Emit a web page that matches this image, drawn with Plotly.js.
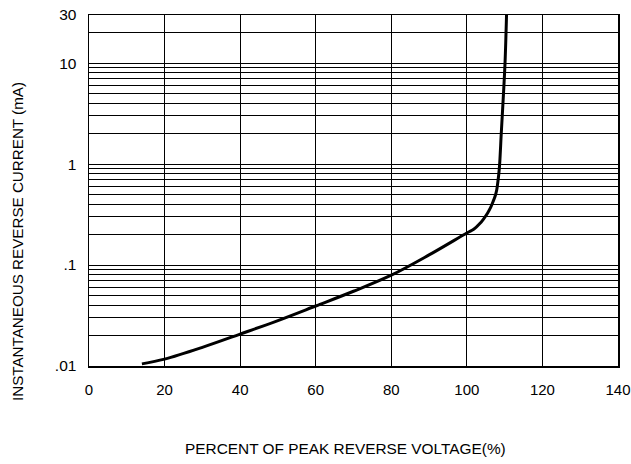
<!DOCTYPE html>
<html>
<head>
<meta charset="utf-8">
<script src="https://cdn.plot.ly/plotly-3.0.1.min.js"></script>
<style>html,body{margin:0;padding:0;background:#fff;}#chart{width:631px;height:464px;}</style>
</head>
<body>
<div id="chart"></div>
<script>
// Percent of peak reverse voltage (%)
const voltagePct = [14, 20, 30, 40, 50, 60, 70, 80, 90, 100.1, 101.9, 103.5, 104.5, 105.5, 106.3, 106.9, 107.45, 107.9, 108.2, 108.45, 108.7, 109.1, 109.6, 110.1, 110.5];
// Instantaneous reverse current (mA)
const currentMA = [0.0105, 0.0117, 0.0153, 0.0207, 0.0282, 0.0393, 0.055, 0.0794, 0.126, 0.209, 0.2275, 0.259, 0.289, 0.328, 0.372, 0.422, 0.478, 0.554, 0.665, 0.798, 1.03, 2.0, 4.3, 10, 30];

const xTicks = [0, 20, 40, 60, 80, 100, 120, 140];
const yGridVals = [0.01,0.02,0.03,0.04,0.05,0.06,0.07,0.08,0.09,0.1,0.2,0.3,0.4,0.5,0.6,0.7,0.8,0.9,1,2,3,4,5,6,7,8,9,10,20,30];
const yLabelMap = {"0.01": ".01", "0.1": ".1", "1": "1", "10": "10", "30": "30"};
const yTickText = yGridVals.map(v => yLabelMap[String(v)] || "");

const FONT = "'Liberation Sans', Arial, sans-serif";

const trace = {
  x: voltagePct, y: currentMA, type: 'scatter', mode: 'lines',
  line: {color: '#000', width: 3, shape: 'spline', smoothing: 1},
  hoverinfo: 'skip'
};

const layout = {
  width: 631, height: 464,
  margin: {l: 89, r: 13, t: 15, b: 98},
  paper_bgcolor: '#fff', plot_bgcolor: '#fff',
  showlegend: false,
  font: {family: FONT, size: 15, color: '#000'},
  xaxis: {
    range: [0, 140], tickvals: xTicks, ticktext: xTicks.map(String),
    showgrid: true, gridcolor: '#000', gridwidth: 1,
    showline: true, linecolor: '#000', linewidth: 1.5, mirror: true,
    ticks: 'outside', ticklen: 9, tickcolor: 'rgba(0,0,0,0)',
    zeroline: false, tickfont: {family: FONT, size: 15, color: '#000'}
  },
  yaxis: {
    type: 'log', range: [-2, Math.log10(30)],
    tickvals: yGridVals, ticktext: yTickText,
    showgrid: true, gridcolor: '#000', gridwidth: 1,
    showline: true, linecolor: '#000', linewidth: 1.5, mirror: true,
    ticks: 'outside', ticklen: 8, tickcolor: 'rgba(0,0,0,0)',
    zeroline: false, tickfont: {family: FONT, size: 15.5, color: '#000'}
  },
  annotations: [
    {text: 'PERCENT OF PEAK REVERSE VOLTAGE(%)', xref: 'paper', yref: 'paper',
     x: 0.484, y: -0.236, xanchor: 'center', yanchor: 'middle', showarrow: false,
     font: {family: FONT, size: 15.4, color: '#000'}},
    {text: 'INSTANTANEOUS REVERSE CURRENT (mA)', xref: 'paper', yref: 'paper',
     x: -0.135, y: 0.355, xanchor: 'center', yanchor: 'middle', showarrow: false, textangle: -90,
     font: {family: FONT, size: 15.2, color: '#000'}}
  ]
};

Plotly.newPlot('chart', [trace], layout, {displayModeBar: false, staticPlot: true});
</script>
</body>
</html>
